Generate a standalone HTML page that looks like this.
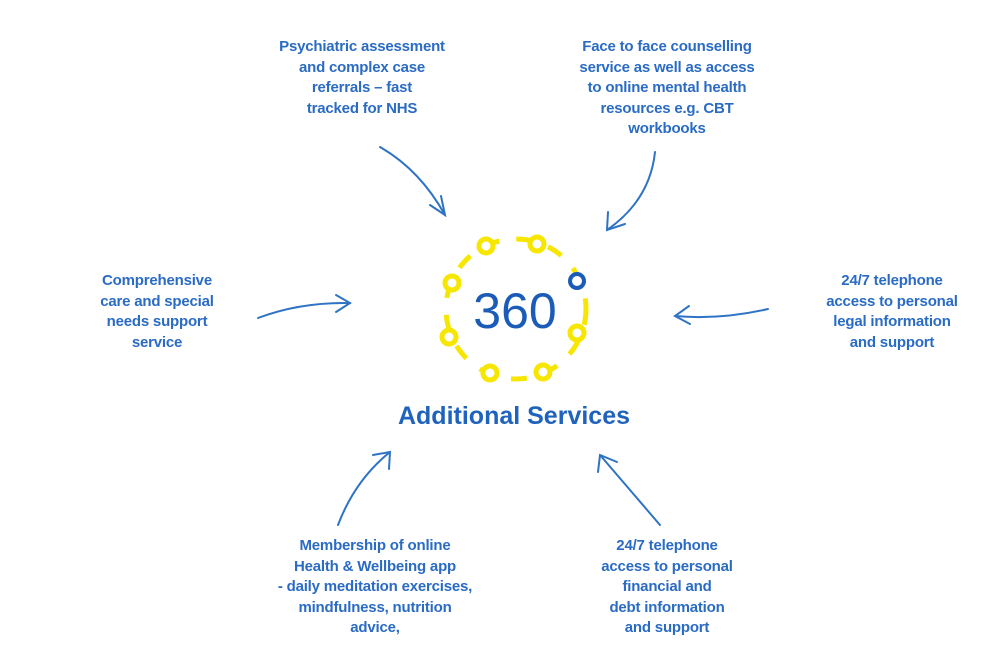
<!DOCTYPE html>
<html><head><meta charset="utf-8"><style>
body{margin:0;width:1000px;height:666px;background:#fff;position:relative;overflow:hidden;font-family:"Liberation Sans",sans-serif;}
.t{position:absolute;color:#2a6bc4;font-size:15px;line-height:20.5px;text-align:center;font-weight:bold;transform:translateX(-50%);white-space:nowrap;letter-spacing:-0.2px}
</style></head><body>
<svg width="1000" height="666" style="position:absolute;left:0;top:0">
<g fill="none" stroke="#2f73c4" stroke-width="2" stroke-linecap="round">
<path d="M380 147 Q420 170 445 215"/><path d="M430 205 L445 215 L441 196"/>
<path d="M655 152 Q650 200 607 230"/><path d="M608 212 L607 230 L625 224"/>
<path d="M258 318 Q300 302 350 303"/><path d="M336 295 L350 303 L336 312"/>
<path d="M768 309 Q720 320 675 316"/><path d="M689 306 L675 316 L690 324"/>
<path d="M338 525 Q355 480 390 452"/><path d="M373 455 L390 452 L389 469"/>
<path d="M660 525 Q630 490 600 455"/><path d="M598 472 L600 455 L617 462"/>
</g>
<g fill="none" stroke="#f7e600" stroke-width="5" stroke-linecap="butt">
<circle cx="516" cy="309" r="70" stroke-dasharray="16 17"/>
</g>
<g fill="#fff" stroke="#f7e600" stroke-width="5">
<circle cx="486" cy="246" r="7"/><circle cx="537" cy="244" r="7"/>
<circle cx="452" cy="283" r="7"/><circle cx="449" cy="337" r="7"/>
<circle cx="490" cy="373" r="7"/><circle cx="543" cy="372" r="7"/>
<circle cx="577" cy="333" r="7"/>
</g>
<circle cx="577" cy="281" r="7" fill="#fff" stroke="#1a5cb8" stroke-width="4"/>
<text x="515" y="328" text-anchor="middle" font-family="Liberation Sans" font-size="50" fill="#1a5cb8">360</text>
<text x="514" y="424" text-anchor="middle" font-family="Liberation Sans" font-weight="bold" font-size="25" fill="#1f63bd">Additional Services</text>
</svg>
<div class="t" style="left:362px;top:37px">Psychiatric assessment<br>and complex case<br>referrals – fast<br>tracked for NHS</div>
<div class="t" style="left:667px;top:37px">Face to face counselling<br>service as well as access<br>to online mental health<br>resources e.g. CBT<br>workbooks</div>
<div class="t" style="left:157px;top:271px">Comprehensive<br>care and special<br>needs support<br>service</div>
<div class="t" style="left:892px;top:271px">24/7 telephone<br>access to personal<br>legal information<br>and support</div>
<div class="t" style="left:375px;top:536px">Membership of online<br>Health &amp; Wellbeing app<br>- daily meditation exercises,<br>mindfulness, nutrition<br>advice,</div>
<div class="t" style="left:667px;top:536px">24/7 telephone<br>access to personal<br>financial and<br>debt information<br>and support</div>
</body></html>
